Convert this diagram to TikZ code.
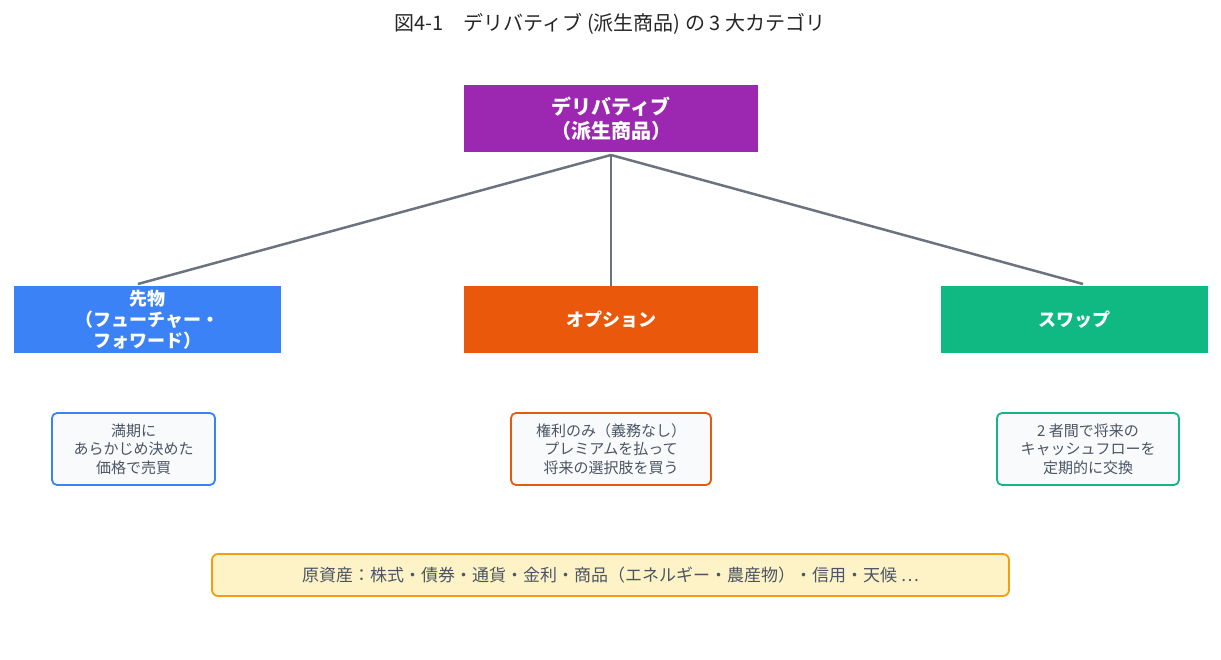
\documentclass[tikz,border=0pt]{standalone}
\usepackage{fontspec}
\setmainfont{Noto Sans CJK JP}
\begin{document}
\begin{tikzpicture}[x=1pt,y=-1pt,
  cat/.style={draw=none,minimum height=67pt,text=white,font=\fontsize{18}{21}\selectfont\bfseries,align=center,inner sep=0pt},
  desc/.style={draw,line width=1.8pt,rounded corners=5pt,fill=descbg,text=textgray,font=\fontsize{15}{18.5}\selectfont,align=center,minimum height=72pt,inner sep=2pt},
  conn/.style={draw=linegray,line width=2.5pt}]
\definecolor{linegray}{HTML}{6B7280}
\definecolor{textgray}{HTML}{4B5563}
\definecolor{descbg}{HTML}{F8FAFC}
\definecolor{cpurple}{HTML}{9C27B0}
\definecolor{cblue}{HTML}{3B82F6}
\definecolor{corange}{HTML}{EA580C}
\definecolor{cgreen}{HTML}{10B981}
\definecolor{camber}{HTML}{F59E0B}
\definecolor{cambbg}{HTML}{FEF3C7}
\useasboundingbox (0,0) rectangle (1221,660);
\node[font=\fontsize{20}{24}\selectfont,text=black!85] (title) at (610,24) {図4-1\quad デリバティブ (派生商品) の 3 大カテゴリ};
\node[cat,fill=cpurple,minimum width=294pt,font=\fontsize{20}{24}\selectfont\bfseries] (root) at (611,118.5) {デリバティブ\\（派生商品）};
\node[cat,fill=cblue,minimum width=267pt,text width=267pt] (fut) at (147.5,319.5) {先物\\（フューチャー・\\フォワード）};
\node[cat,fill=corange,minimum width=294pt] (opt) at (611,319.5) {オプション};
\node[cat,fill=cgreen,minimum width=267pt] (swp) at (1074.5,319.5) {スワップ};
\coordinate (r) at (611,155);
\draw[conn] (r) -- (138,284);
\draw[conn] (r) -- (opt.north);
\draw[conn] (r) -- (1083,284);
\node[desc,draw=cblue,minimum width=163pt] (d1) at (133.5,449) {満期に\\あらかじめ決めた\\価格で売買};
\node[desc,draw=corange,minimum width=200pt] (d2) at (611,449) {権利のみ（義務なし）\\プレミアムを払って\\将来の選択肢を買う};
\node[desc,draw=cgreen,minimum width=182pt] (d3) at (1088,449) {2 者間で将来の\\キャッシュフローを\\定期的に交換};
\node[draw=camber,line width=1.8pt,rounded corners=6pt,fill=cambbg,text=textgray,font=\fontsize{17}{20}\selectfont,minimum width=797pt,minimum height=42pt] (base) at (610.5,575) {原資産：株式・債券・通貨・金利・商品（エネルギー・農産物）・信用・天候 …};
\end{tikzpicture}
\end{document}
